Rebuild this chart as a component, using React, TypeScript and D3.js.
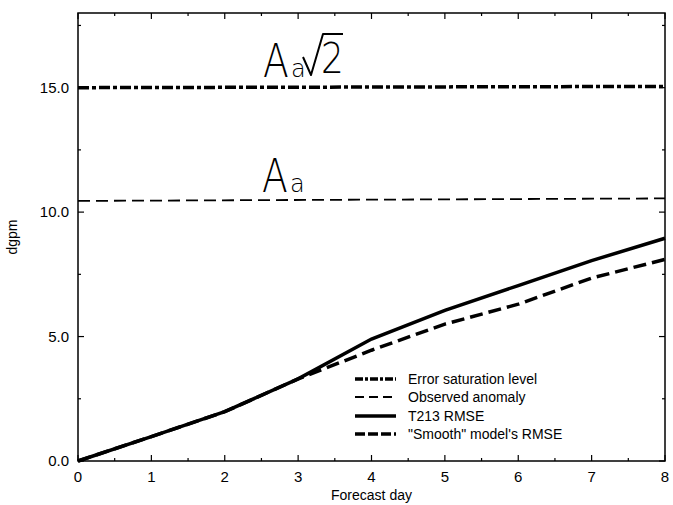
import React from "react";
import * as d3 from "d3";

const days = [0, 1, 2, 3, 4, 5, 6, 7, 8];
const t213Rmse = [0, 0.98, 1.98, 3.3, 4.9, 6.05, 7.05, 8.05, 8.95];
const smoothRmse = [0, 0.98, 1.98, 3.3, 4.45, 5.5, 6.3, 7.35, 8.1];
const saturationLevel = [15.0, 15.05];
const observedAnomaly = [10.45, 10.55];
const xTicks = [0, 1, 2, 3, 4, 5, 6, 7, 8];
const yTicks = [0, 5, 10, 15];
const legendLabels = ["Error saturation level", "Observed anomaly", "T213 RMSE", "\"Smooth\" model's RMSE"];

const W = 673, H = 505;
const M = { left: 78, right: 665, top: 13, bottom: 461 };

export default function App() {
  const x = d3.scaleLinear().domain([0, 8]).range([M.left, M.right]);
  const y = d3.scaleLinear().domain([0, 18]).range([M.bottom, M.top]);
  const line = d3.line<number>().x((_, i) => x(days[i])).y((d) => y(d));
  const font = "'Liberation Sans', Arial, sans-serif";
  const xMinor = d3.range(0, 8.01, 0.5);
  const yMinor = d3.range(0, 18.01, 2.5);

  const styles = [
    { w: 3.5, dash: "11 3 4 3" },
    { w: 1.8, dash: "12 6" },
    { w: 3.5, dash: "" },
    { w: 3.5, dash: "13 6" },
  ];
  const legendDash = ["8 2 3 2", "9 5", "", "10 3"];
  const legendY = [379, 397, 416, 434];

  return (
    <svg width={W} height={H} style={{ position: "absolute", left: 0, top: 0, background: "#fff" }}>
      {/* frame */}
      <rect x={M.left} y={M.top} width={M.right - M.left} height={M.bottom - M.top} fill="none" stroke="#000" strokeWidth={1.5} />
      {/* ticks */}
      {xMinor.map((t) => {
        const major = Math.abs(t - Math.round(t)) < 1e-6;
        const len = major ? 6 : 3;
        return (
          <g key={"xt" + t}>
            <line x1={x(t)} x2={x(t)} y1={M.bottom} y2={M.bottom - len} stroke="#000" strokeWidth={1.2} />
            <line x1={x(t)} x2={x(t)} y1={M.top} y2={M.top + len} stroke="#000" strokeWidth={1.2} />
          </g>
        );
      })}
      {yMinor.map((t) => {
        const major = Math.abs(t / 5 - Math.round(t / 5)) < 1e-6;
        const len = major ? 6 : 3;
        return (
          <g key={"yt" + t}>
            <line x1={M.left} x2={M.left + len} y1={y(t)} y2={y(t)} stroke="#000" strokeWidth={1.2} />
            <line x1={M.right} x2={M.right - len} y1={y(t)} y2={y(t)} stroke="#000" strokeWidth={1.2} />
          </g>
        );
      })}
      {xTicks.map((t) => (
        <text key={"xl" + t} x={x(t)} y={482} textAnchor="middle" fontFamily={font} fontSize={15}>{t}</text>
      ))}
      {yTicks.map((t) => (
        <text key={"yl" + t} x={69} y={y(t) + 5} textAnchor="end" fontFamily={font} fontSize={15}>{t.toFixed(1)}</text>
      ))}
      <text x={(M.left + M.right) / 2} y={500} textAnchor="middle" fontFamily={font} fontSize={14}>Forecast day</text>
      <text transform={`translate(17,${(M.top + M.bottom) / 2}) rotate(-90)`} textAnchor="middle" fontFamily={font} fontSize={14}>dgpm</text>

      {/* horizontal reference lines */}
      <line x1={x(0)} x2={x(8)} y1={y(saturationLevel[0])} y2={y(saturationLevel[1])} stroke="#000" strokeWidth={styles[0].w} strokeDasharray={styles[0].dash} />
      <line x1={x(0)} x2={x(8)} y1={y(observedAnomaly[0])} y2={y(observedAnomaly[1])} stroke="#000" strokeWidth={styles[1].w} strokeDasharray={styles[1].dash} />
      {/* curves */}
      <path d={line(t213Rmse) || ""} fill="none" stroke="#000" strokeWidth={styles[2].w} />
      <path d={line(smoothRmse) || ""} fill="none" stroke="#000" strokeWidth={styles[3].w} strokeDasharray={styles[3].dash} />

      {/* annotations */}
      <g fontFamily="'DejaVu Sans', sans-serif" fontWeight={200} fill="#000">
        <text transform="translate(263,77) scale(0.82,1)" fontSize={46}>A</text>
        <text x={291} y={77} fontSize={24}>a</text>
        <path d="M303,57 L311,75 L323,34 L343,34" fill="none" stroke="#000" strokeWidth={2} strokeLinejoin="round" />
        <text transform="translate(321,73) scale(0.85,1)" fontSize={42}>2</text>
        <text transform="translate(262,192) scale(0.82,1)" fontSize={46}>A</text>
        <text x={290} y={192} fontSize={24}>a</text>
      </g>

      {/* legend */}
      {legendLabels.map((lab, i) => (
        <g key={lab}>
          <line x1={355} x2={396} y1={legendY[i]} y2={legendY[i]} stroke="#000" strokeWidth={styles[i].w} strokeDasharray={legendDash[i]} />
          <text x={408} y={legendY[i] + 5} fontFamily={font} fontSize={14}>{lab}</text>
        </g>
      ))}
    </svg>
  );
}
